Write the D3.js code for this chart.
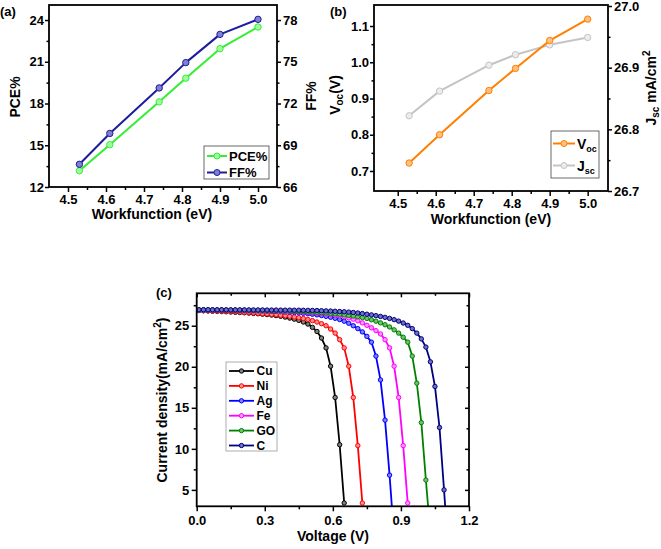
<!DOCTYPE html>
<html><head><meta charset="utf-8">
<script src="https://cdn.jsdelivr.net/npm/d3@7"></script>
<style>body{margin:0;background:#fff}svg{display:block}text{font-family:"Liberation Sans",Arial,sans-serif;font-weight:bold}</style>
</head><body>
<script>
// ---------- Data ----------
const workfunction = [4.53, 4.61, 4.74, 4.81, 4.90, 5.00];
const pce = [13.17, 15.04, 18.12, 19.82, 21.94, 23.50];
const ff = [67.63, 69.85, 73.12, 74.94, 76.97, 78.05];
const voc = [0.722, 0.800, 0.922, 0.983, 1.060, 1.119];
const jsc = [26.822, 26.862, 26.904, 26.921, 26.937, 26.949];

const wfTicks = [4.5, 4.6, 4.7, 4.8, 4.9, 5.0];
const pceTicks = [12, 15, 18, 21, 24];
const ffTicks = [66, 69, 72, 75, 78];
const vocTicks = [0.7, 0.8, 0.9, 1.0, 1.1];
const jscTicks = [26.7, 26.8, 26.9, 27.0];
const voltTicks = [0.0, 0.3, 0.6, 0.9, 1.2];
const curTicks = [5, 10, 15, 20, 25];

const voltage = [0.01,0.03,0.05,0.07,0.09,0.11,0.13,0.15,0.17,0.19,0.21,0.23,0.25,0.27,0.29,0.31,0.33,0.35,0.37,0.39,
  0.41,0.43,0.45,0.47,0.49,0.51,0.53,0.55,0.57,0.59,0.61,0.63,0.65,0.67,0.69,0.71,0.73,0.75,0.77,0.79,
  0.81,0.83,0.85,0.87,0.89,0.91,0.93,0.95,0.97,0.99,1.01,1.03,1.05,1.07,1.09,1.11];
const metals = ["Cu", "Ni", "Ag", "Fe", "GO", "C"];
const jCu = [26.85,26.82,26.80,26.77,26.75,26.72,26.70,26.67,26.64,26.61,26.58,26.54,26.50,26.46,26.41,26.36,26.30,26.23,26.15,26.05,
  25.93,25.80,25.65,25.45,25.20,24.80,24.30,23.50,22.30,20.07,16.26,10.50,3.40];
const jNi = [26.86,26.84,26.82,26.80,26.78,26.76,26.74,26.72,26.69,26.66,26.63,26.60,26.56,26.52,26.48,26.44,26.39,26.34,26.28,26.22,
  26.15,26.07,25.98,25.88,25.76,25.62,25.45,25.25,25.00,24.60,24.10,23.30,22.30,20.07,16.26,10.40,3.40];
const jAg = [26.90,26.90,26.89,26.89,26.88,26.88,26.87,26.87,26.86,26.85,26.84,26.83,26.82,26.81,26.80,26.78,26.76,26.74,26.71,26.68,
  26.65,26.61,26.57,26.52,26.46,26.40,26.32,26.24,26.14,26.03,25.90,25.75,25.55,25.30,25.00,24.65,24.25,23.70,23.00,21.30,
  18.40,13.50,6.80,-0.80];
const jFe = [26.90,26.90,26.90,26.89,26.89,26.89,26.88,26.88,26.88,26.87,26.86,26.85,26.84,26.83,26.82,26.81,26.80,26.78,26.76,26.74,
  26.72,26.70,26.67,26.64,26.61,26.57,26.53,26.48,26.43,26.37,26.30,26.22,26.10,25.97,25.80,25.60,25.35,25.05,24.75,24.40,
  24.00,23.30,22.30,20.07,16.26,10.40,3.40];
const jGO = [26.92,26.92,26.92,26.91,26.91,26.91,26.90,26.90,26.90,26.89,26.89,26.88,26.87,26.86,26.85,26.84,26.83,26.82,26.81,26.80,
  26.78,26.76,26.74,26.72,26.69,26.66,26.63,26.59,26.55,26.50,26.45,26.39,26.33,26.26,26.18,26.10,26.00,25.88,25.72,25.55,
  25.35,25.12,24.85,24.50,24.10,23.60,23.00,21.30,18.00,13.20,6.20,-0.40];
const jC = [26.95,26.95,26.95,26.94,26.94,26.94,26.94,26.93,26.93,26.93,26.93,26.92,26.92,26.92,26.92,26.91,26.91,26.91,26.90,26.90,
  26.90,26.89,26.89,26.88,26.87,26.86,26.85,26.83,26.81,26.79,26.76,26.73,26.70,26.66,26.61,26.55,26.48,26.40,26.32,26.23,
  26.13,26.02,25.89,25.74,25.56,25.33,25.05,24.65,24.10,23.40,22.40,20.60,17.60,12.60,5.00,-3.00];
const currents = [jCu, jNi, jAg, jFe, jGO, jC];
const metalColors = ["#000000", "#ff0000", "#0000ff", "#ff00ff", "#008000", "#000080"];
const metalFills = ["#808080", "#ff9090", "#8080ff", "#ff99ff", "#70c070", "#7070c0"];

// ---------- Helpers ----------
const svg = d3.select("body").append("svg").attr("width", 661).attr("height", 549);
const TF = 13;

function styleAxis(g, fs) {
  g.select(".domain").remove();
  g.selectAll(".tick line").attr("stroke", "#000").attr("stroke-width", 1.5);
  g.selectAll(".tick text").attr("fill", "#000").style("font-size", fs + "px")
    .style("font-family", '"Liberation Sans",Arial,sans-serif').style("font-weight", "bold");
}
function addAxis(gen, tx, ty, vals, size, pad, fmt, minorVals, minorSize) {
  const g = svg.append("g").attr("transform", `translate(${tx},${ty})`)
    .call(gen.tickValues(vals).tickSize(size).tickPadding(pad).tickFormat(fmt));
  styleAxis(g, TF);
  if (minorVals) {
    const m = svg.append("g").attr("transform", `translate(${tx},${ty})`)
      .call(gen.tickValues(minorVals).tickSize(minorSize).tickFormat(""));
    styleAxis(m, TF);
  }
  return g;
}
function frame(x0, y0, x1, y1) {
  svg.append("rect").attr("x", x0).attr("y", y0).attr("width", x1 - x0).attr("height", y1 - y0)
    .attr("fill", "none").attr("stroke", "#000").attr("stroke-width", 1.8);
}
function series(xs, ys, x, y, color, fill, lw, r, clipId) {
  const pts = xs.slice(0, ys.length).map((v, i) => [v, ys[i]]);
  const g = svg.append("g");
  if (clipId) g.attr("clip-path", `url(#${clipId})`);
  g.append("path").datum(pts)
    .attr("d", d3.line().x(d => x(d[0])).y(d => y(d[1])))
    .attr("fill", "none").attr("stroke", color).attr("stroke-width", lw).attr("stroke-linejoin", "round");
  g.selectAll("circle").data(pts).join("circle")
    .attr("cx", d => x(d[0])).attr("cy", d => y(d[1])).attr("r", r)
    .attr("fill", fill).attr("stroke", color).attr("stroke-width", 1);
}
function text(x, y, s, size, anchor, rot) {
  const t = svg.append("text").attr("x", x).attr("y", y).attr("font-size", size)
    .attr("text-anchor", anchor || "start").attr("fill", "#000").text(s);
  if (rot) t.attr("transform", `rotate(${rot},${x},${y})`);
  return t;
}
function legendItem(x0, x1, y, color, fill, lw, r) {
  svg.append("line").attr("x1", x0).attr("x2", x1).attr("y1", y).attr("y2", y)
    .attr("stroke", color).attr("stroke-width", lw);
  svg.append("circle").attr("cx", (x0 + x1) / 2).attr("cy", y).attr("r", r)
    .attr("fill", fill).attr("stroke", color).attr("stroke-width", 1);
}
const f1 = d3.format(".1f"), f0 = d3.format("d");
const minorBetween = (arr, step) => arr.slice(0, -1).map(v => +(v + step).toFixed(4));

// ---------- Panel (a) ----------
const xA = d3.scaleLinear().domain([4.45, 5.05]).range([49, 277]);
const yA = d3.scaleLinear().domain([12, 25.08]).range([187, 5]);
const yA2 = d3.scaleLinear().domain([66, 79.08]).range([187, 5]);
addAxis(d3.axisBottom(xA), 0, 187, wfTicks, 5, 3, f1, minorBetween(wfTicks, 0.05), 3);
addAxis(d3.axisLeft(yA), 49, 0, pceTicks, 4, 1, f0, minorBetween(pceTicks, 1.5), 2.5);
addAxis(d3.axisRight(yA2), 277, 0, ffTicks, 4, 2, f0, minorBetween(ffTicks, 1.5), 2.5);
series(workfunction, pce, xA, yA, "#33ee33", "#a0ffa0", 2, 3.2);
series(workfunction, ff, xA, yA2, "#1c1ca0", "#8080d0", 2, 3.2);
frame(49, 5, 277, 187);
svg.append("rect").attr("x", 204).attr("y", 146).attr("width", 65).attr("height", 33)
  .attr("fill", "#fff").attr("stroke", "#444").attr("stroke-width", 0.8);
legendItem(207, 227, 156, "#33ee33", "#a0ffa0", 2, 3);
legendItem(207, 227, 172.5, "#1c1ca0", "#8080d0", 2, 3);
text(229, 160.5, "PCE%", 13);
text(229, 177, "FF%", 13);
text(20, 97, "PCE%", 14, "middle", -90);
text(316, 96, "FF%", 14, "middle", -90);
text(152, 219, "Workfunction (eV)", 14, "middle");
text(0, 16, "(a)", 13);

// ---------- Panel (b) ----------
const xB = d3.scaleLinear().domain([4.4375, 5.0535]).range([374, 608]);
const yB = d3.scaleLinear().domain([0.6448, 1.158]).range([191, 5]);
const yB2 = d3.scaleLinear().domain([26.7, 27.0]).range([191, 6]);
addAxis(d3.axisBottom(xB), 0, 191, wfTicks, 5, 3, f1, minorBetween(wfTicks, 0.05), 3);
addAxis(d3.axisLeft(yB), 374, 0, vocTicks, 4, 1, f1, minorBetween(vocTicks, 0.05), 2.5);
addAxis(d3.axisRight(yB2), 608, 0, jscTicks, 4, 2, f1, minorBetween(jscTicks, 0.05), 2.5);
series(workfunction, jsc, xB, yB2, "#c4c4c4", "#ececec", 2, 3.2);
series(workfunction, voc, xB, yB, "#ff8000", "#ffc080", 2, 3.2);
frame(374, 5, 608, 191);
svg.append("rect").attr("x", 551).attr("y", 131).attr("width", 48).attr("height", 47)
  .attr("fill", "#fff").attr("stroke", "#444").attr("stroke-width", 0.8);
legendItem(553, 575, 143.5, "#ff8000", "#ffc080", 2, 3);
legendItem(553, 575, 165.5, "#c4c4c4", "#ececec", 2, 3);
const lv = text(577, 148.5, "V", 14); lv.append("tspan").attr("font-size", 9).attr("dy", 3).text("oc");
const lj = text(577, 170.5, "J", 14); lj.append("tspan").attr("font-size", 9).attr("dy", 3).text("sc");
const tv = text(340, 95, "V", 14, "middle", -90);
tv.append("tspan").attr("font-size", 10).attr("dy", 3).text("oc");
tv.append("tspan").attr("dy", -3).text("(V)");
const tj = text(656, 88, "J", 14, "middle", -90);
tj.append("tspan").attr("font-size", 10).attr("dy", 3).text("sc");
tj.append("tspan").attr("dy", -3).text(" mA/cm");
tj.append("tspan").attr("font-size", 10).attr("dy", -6).text("2");
text(491, 224, "Workfunction (eV)", 14, "middle");
text(330, 16, "(b)", 13);

// ---------- Panel (c) ----------
const xC = d3.scaleLinear().domain([0, 1.2]).range([196.7, 469]);
const yC = d3.scaleLinear().domain([3, 28.95]).range([506.3, 293.3]);
svg.append("defs").append("clipPath").attr("id", "clipC").append("rect")
  .attr("x", 196.7).attr("y", 293.3).attr("width", 469 - 196.7).attr("height", 506.3 - 293.3);
addAxis(d3.axisBottom(xC), 0, 506.3, voltTicks, 5, 4.5, f1, minorBetween(voltTicks, 0.15), 3);
addAxis(d3.axisLeft(yC), 196.7, 0, curTicks, 5, 2.5, f0, [7.5, 12.5, 17.5, 22.5, 27.5], 3);
addAxis(d3.axisTop(xC), 0, 293.3, voltTicks, -4, 0, () => "", minorBetween(voltTicks, 0.15), -2.5);
addAxis(d3.axisRight(yC), 469, 0, curTicks, -4, 0, () => "", [7.5, 12.5, 17.5, 22.5, 27.5], -2.5);
currents.forEach((arr, i) => series(voltage, arr, xC, yC, metalColors[i], metalFills[i], 1.8, 2.2, "clipC"));
frame(196.7, 293.3, 469, 506.3);
svg.append("rect").attr("x", 226).attr("y", 362).attr("width", 51).attr("height", 89)
  .attr("fill", "#fff").attr("stroke", "#999").attr("stroke-width", 0.8);
metals.forEach((m, i) => {
  const y = 371 + i * 14.9;
  legendItem(229, 254, y, metalColors[i], metalFills[i], 1.8, 2.2);
  text(256.5, y + 4.3, m, 12);
});
const tc = text(167, 400, "Current density(mA/cm", 14, "middle", -90);
tc.append("tspan").attr("font-size", 10).attr("dy", -6).text("2");
tc.append("tspan").attr("dy", 6).text(")");
text(333, 541, "Voltage (V)", 14, "middle");
text(156, 297, "(c)", 13);
</script>
</body></html>
